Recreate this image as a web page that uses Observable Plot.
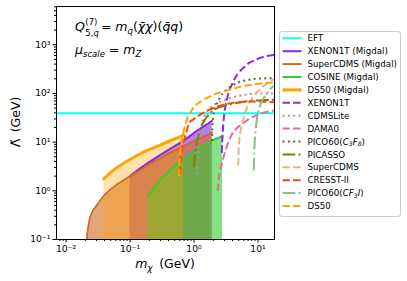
<!DOCTYPE html>
<html><head><meta charset="utf-8">
<script src="https://cdn.jsdelivr.net/npm/d3@7"></script>
<script src="https://cdn.jsdelivr.net/npm/@observablehq/plot@0.6"></script>
<style>
body{margin:0;background:#fff;}
#wrap{position:relative;width:407px;height:281px;}
</style></head><body><div id="wrap"></div>
<script>
// ---------- data ----------
const eftValue = 39;

const xenonMigdalX = [0.1,0.15,0.2,0.3,0.5,0.7,1.0,1.5,1.92];
const xenonMigdalY = [2.0,3.0,3.9,5.5,8.3,10.8,15.5,22,27.5];

const superCdmsMigdalX = [0.021,0.0222,0.0235,0.026,0.03,0.04,0.06,0.1,0.2,0.3,0.5,0.7,1.0,1.5,1.92];
const superCdmsMigdalY = [0.1,0.18,0.27,0.38,0.5,0.82,1.3,2.0,3.5,4.7,6.7,8.3,10.5,13.5,16];

const cosineMigdalX = [0.19,0.22,0.3,0.4,0.6,1.0,1.5,2.0,2.8];
const cosineMigdalY = [0.74,1.0,1.7,2.5,4.0,6.5,9,11,13.2];

const ds50MigdalX = [0.039,0.05,0.07,0.1,0.15,0.2,0.3,0.4,0.5,0.69];
const ds50MigdalY = [1.76,2.4,3.3,4.4,5.9,7.0,8.8,10.3,11.6,14];

const xenon1tX = [2.72,2.76,2.82,2.9,3.05,3.3,3.95,4.8,5.66,7,9.1,12,18.8];
const xenon1tY = [6,10,17,28,48,80,157,250,319,410,489,560,620];

const cdmsliteX = [1.12,1.13,1.16,1.2,1.26,1.35,1.51,1.8,2.17,3,3.95,5.5,8.1,12,18.8];
const cdmsliteY = [2.2,3.5,6.7,11,17.3,26,38,50,61,73,83,91,98,100,100];

const dama0X = [2.36,2.45,2.6,2.8,3.1,3.5,3.95,4.7,5.66,7,9.1,13,18.8];
const dama0Y = [1.0,1.8,2.8,4.2,6.7,10.5,14.8,19.5,23.7,29,35,41,45];

const pico60C3F8X = [1.92,1.93,1.95,2.0,2.17,2.5,3.1,4.0,5.0,7,9.1,13,18.8];
const pico60C3F8Y = [10.5,16,24,35,52,80,114,145,170,190,199,204,205];

const picassoX = [1.0,1.02,1.06,1.12,1.19,1.3,1.51,1.8,2.17,3,3.95,5.5,8.1,12,18.8];
const picassoY = [3.05,4.5,6.7,10,14.8,21,30,40,48,56,61,66,71,73,74];

const superCdmsX = [4.9,4.95,5.0,5.1,5.3,5.66,6.2,7.2,8.5,10.3,12.5,14.8,18.8];
const superCdmsY = [3.3,5,7.5,10.8,16,23.7,38,61,88,114,145,170,205];

const cresstX = [0.6,0.61,0.62,0.64,0.66,0.7,0.76,0.83,1.0,1.19,1.5,2.17,3,3.95,5.5,7.2,10,14,18.8];
const cresstY = [2.2,3,4.5,6.5,8.5,11,16,23.7,30,35,42,52,59,64,67,68,68,67,66];

const pico60Cf3iX = [8.6,8.65,8.75,8.9,9.2,9.7,10.5,11.6,13,14.8,18.8];
const pico60Cf3iY = [2.6,4,6.5,10.8,18,32,50,71,90,114,157];

const ds50X = [0.58,0.59,0.6,0.62,0.65,0.69,0.76,0.88,1.05,1.34,1.7,2.17,3,3.95,5.5,8.1,12,18.8];
const ds50Y = [2.0,3.0,4.5,7,11,17,27,41,56,71,85,98,112,124,138,152,162,170];

const legendLabels = ["EFT","XENON1T (Migdal)","SuperCDMS (Migdal)","COSINE (Migdal)","DS50 (Migdal)",
  "XENON1T","CDMSLite","DAMA0","PICO60(C3F8)","PICASSO","SuperCDMS","CRESST-II","PICO60(CF3I)","DS50"];

const xTickValues = [0.01,0.1,1,10];
const xTickLabels = ["10\u207B\u00B2","10\u207B\u00B9","10\u2070","10\u00B9"];
const yTickValues = [0.1,1,10,100,1000];
const yTickLabels = ["10\u207B\u00B9","10\u2070","10\u00B9","10\u00B2","10\u00B3"];

// ---------- styles ----------
const DASH = "7.4,3.2", DOT = "2,3.3", DASHDOT = "12.8,3.2,2,3.2";
const fills = [
  {x: xenonMigdalX, y: xenonMigdalY, color: "#8a2be2", op: 0.6, w: 2},
  {x: superCdmsMigdalX, y: superCdmsMigdalY, color: "#d2691e", op: 0.6, w: 1.6},
  {x: cosineMigdalX, y: cosineMigdalY, color: "#32cd32", op: 0.6, w: 2},
  {x: ds50MigdalX, y: ds50MigdalY, color: "#ffa500", op: 0.33, w: 3}
];
const curves = [
  {x: xenon1tX, y: xenon1tY, color: "#8a2be2", dash: DASH},
  {x: cdmsliteX, y: cdmsliteY, color: "#bc8f8f", dash: DOT},
  {x: dama0X, y: dama0Y, color: "#db7093", dash: DASH},
  {x: pico60C3F8X, y: pico60C3F8Y, color: "#556b2f", dash: DOT},
  {x: picassoX, y: picassoY, color: "#808000", dash: DASHDOT},
  {x: superCdmsX, y: superCdmsY, color: "#deb887", dash: DASH},
  {x: cresstX, y: cresstY, color: "#ff4500", dash: DASH},
  {x: pico60Cf3iX, y: pico60Cf3iY, color: "#8fbc8f", dash: DASHDOT},
  {x: ds50X, y: ds50Y, color: "#ffa500", dash: DASH}
];

const minor = (lo, hi) => { const out = []; for (let e = lo; e <= hi; e++) for (let m = 2; m <= 9; m++) out.push(m * Math.pow(10, e)); return out; };
const xDomain = [0.0071, 18.1], yDomain = [0.1, 6100];
const xMinor = minor(-3, 1).filter(v => v >= xDomain[0] && v <= xDomain[1]);
const yMinor = minor(-1, 3).filter(v => v >= yDomain[0] && v <= yDomain[1]);

const marks = [];
for (const s of fills) {
  const idx = d3.range(s.x.length);
  marks.push(Plot.areaY(idx, {x: i => s.x[i], y1: 0.1, y2: i => s.y[i], fill: s.color, fillOpacity: s.op, curve: "monotone-x", clip: true}));
}
for (const s of fills) {
  const idx = d3.range(s.x.length);
  marks.push(Plot.line(idx, {x: i => s.x[i], y: i => s.y[i], stroke: s.color, strokeWidth: s.w, curve: "monotone-x", clip: true}));
}
marks.push(Plot.ruleY([eftValue], {stroke: "#00ffff", strokeWidth: 2}));
for (const s of curves) {
  const idx = d3.range(s.x.length);
  marks.push(Plot.line(idx, {x: i => s.x[i], y: i => s.y[i], stroke: s.color, strokeWidth: 2, strokeDasharray: s.dash, strokeLinecap: "butt", curve: "monotone-x", clip: true}));
}
marks.push(Plot.axisX({ticks: xTickValues, tickFormat: d => xTickLabels[xTickValues.indexOf(d)], tickSize: 3.5, tickPadding: 2.5, label: null, fontSize: 9.2}));
marks.push(Plot.axisX({ticks: xMinor, tickFormat: () => "", tickSize: 2, label: null}));
marks.push(Plot.axisY({ticks: yTickValues, tickFormat: d => yTickLabels[yTickValues.indexOf(d)], tickSize: 3.5, tickPadding: 2.5, label: null, fontSize: 9.2}));
marks.push(Plot.axisY({ticks: yMinor, tickFormat: () => "", tickSize: 2, label: null}));
marks.push(Plot.frame({stroke: "black", strokeWidth: 1}));

const chart = Plot.plot({
  width: 407, height: 281,
  marginLeft: 56, marginRight: 133, marginTop: 6, marginBottom: 42,
  x: {type: "log", domain: xDomain},
  y: {type: "log", domain: yDomain},
  style: {fontFamily: "DejaVu Sans", fontSize: "9.2px", background: "white", color: "black", overflow: "visible"},
  marks
});
document.getElementById("wrap").appendChild(chart);

// ---------- text overlays (annotations, axis labels, legend) ----------
const svg = d3.select(chart);
const g = svg.append("g").attr("font-family", "DejaVu Sans").attr("fill", "black").attr("text-anchor", "start");
function txt(x, y, size, italic, str) {
  return g.append("text").attr("x", x).attr("y", y).attr("font-size", size).attr("text-anchor", "start")
    .attr("font-style", italic ? "italic" : "normal").text(str);
}
function width(sel) { return sel.node().getComputedTextLength(); }

// line 1: Q^{(7)}_{5,q} = m_q(χ̄χ)(q̄q)
let cx = 75;
const Q = txt(cx, 31, 12.5, true, "Q"); cx += width(Q) + 0.5;
const sup = txt(cx, 24.5, 8.5, false, "(7)");
const sub = g.append("text").attr("x", cx).attr("y", 36).attr("font-size", 8.5).attr("text-anchor", "start");
sub.append("tspan").text("5,"); sub.append("tspan").attr("font-style", "italic").text("q");
cx += Math.max(width(sup), width(sub)) + 2;
const rest = g.append("text").attr("x", cx).attr("y", 31).attr("font-size", 12.5).attr("text-anchor", "start");
rest.append("tspan").text("= ");
rest.append("tspan").attr("font-style", "italic").text("m");
rest.append("tspan").attr("font-style", "italic").attr("font-size", 8.5).attr("dy", 2.5).text("q");
rest.append("tspan").attr("dy", -2.5).text("(");
rest.append("tspan").attr("font-style", "italic").text("\u03C7\u0304\u03C7");
rest.append("tspan").text(")(");
rest.append("tspan").attr("font-style", "italic").text("q\u0304q");
rest.append("tspan").text(")");

// line 2: μ_scale = m_Z
const l2 = g.append("text").attr("x", 75).attr("y", 54).attr("font-size", 12.5).attr("text-anchor", "start");
l2.append("tspan").attr("font-style", "italic").text("\u03BC");
l2.append("tspan").attr("font-style", "italic").attr("font-size", 8.5).attr("dy", 2.5).text("scale");
l2.append("tspan").attr("dy", -2.5).text(" = ");
l2.append("tspan").attr("font-style", "italic").text("m");
l2.append("tspan").attr("font-style", "italic").attr("font-size", 8.5).attr("dy", 2.5).text("Z");

// axis labels
const xl = g.append("text").attr("x", 165).attr("y", 268).attr("font-size", 12.5).attr("text-anchor", "middle");
xl.append("tspan").attr("font-style", "italic").text("m");
xl.append("tspan").attr("font-style", "italic").attr("font-size", 9).attr("dy", 3).text("\u03C7");
xl.append("tspan").attr("dy", -3).text("\u2009 (GeV)");
const yl = g.append("text").attr("transform", "translate(20,122) rotate(-90)").attr("font-size", 12.5).attr("text-anchor", "middle");
yl.append("tspan").text("\u039B\u0303");
yl.append("tspan").text("\u2009 (GeV)");

// legend
const lg = g.append("g");
lg.append("rect").attr("x", 279.5).attr("y", 31.5).attr("width", 121).attr("height", 185).attr("rx", 2.5)
  .attr("fill", "white").attr("fill-opacity", 0.8).attr("stroke", "#cccccc").attr("stroke-width", 1);
const legendStyles = [
  {color: "#00ffff", w: 2, dash: null},
  ...fills.map(f => ({color: f.color, w: f.w === 3 ? 3 : 2, dash: null})),
  ...curves.map(c => ({color: c.color, w: 2, dash: c.dash}))
];
legendLabels.forEach((lab, i) => {
  const cy = 38.3 + i * 12.9;
  const st = legendStyles[i];
  lg.append("line").attr("x1", 282.5).attr("x2", 301.5).attr("y1", cy).attr("y2", cy)
    .attr("stroke", st.color).attr("stroke-width", st.w).attr("stroke-dasharray", st.dash);
  const t = lg.append("text").attr("x", 307.5).attr("y", cy + 3.1).attr("font-size", 8.7).attr("text-anchor", "start");
  if (lab === "PICO60(C3F8)") {
    t.append("tspan").text("PICO60(");
    t.append("tspan").attr("font-style", "italic").text("C");
    t.append("tspan").attr("font-style", "italic").attr("font-size", 6.2).attr("dy", 1.8).text("3");
    t.append("tspan").attr("font-style", "italic").attr("dy", -1.8).text("F");
    t.append("tspan").attr("font-style", "italic").attr("font-size", 6.2).attr("dy", 1.8).text("8");
    t.append("tspan").attr("dy", -1.8).text(")");
  } else if (lab === "PICO60(CF3I)") {
    t.append("tspan").text("PICO60(");
    t.append("tspan").attr("font-style", "italic").text("CF");
    t.append("tspan").attr("font-style", "italic").attr("font-size", 6.2).attr("dy", 1.8).text("3");
    t.append("tspan").attr("font-style", "italic").attr("dy", -1.8).text("I");
    t.append("tspan").text(")");
  } else {
    t.text(lab);
  }
});
</script>
</body></html>
